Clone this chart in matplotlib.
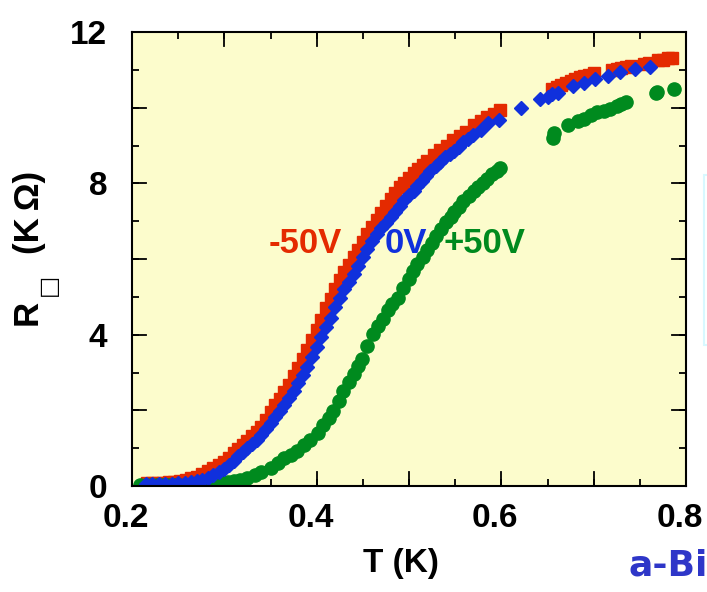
import matplotlib
matplotlib.use('Agg')
import matplotlib.pyplot as plt
from matplotlib.ticker import MultipleLocator, FixedLocator
from matplotlib.transforms import ScaledTranslation

plt.rcParams['font.family'] = ['Liberation Sans', 'DejaVu Sans']
plt.rcParams['font.weight'] = 'bold'
plt.rcParams['axes.labelweight'] = 'bold'

# -50V gate voltage (red squares)
t_m50 = [0.216, 0.222, 0.228, 0.234, 0.240, 0.246, 0.252, 0.258, 0.264, 0.270,
         0.276, 0.282, 0.288, 0.294, 0.300, 0.305, 0.310, 0.315, 0.320, 0.325,
         0.330, 0.335, 0.340, 0.345, 0.350, 0.355, 0.360, 0.365, 0.370, 0.375,
         0.380, 0.385, 0.390, 0.395, 0.400, 0.405, 0.410, 0.415, 0.420, 0.425,
         0.430, 0.435, 0.440, 0.445, 0.450, 0.455, 0.460, 0.465, 0.470, 0.475,
         0.480, 0.485, 0.490, 0.495, 0.500, 0.505, 0.510, 0.515, 0.520, 0.527,
         0.534, 0.541, 0.548, 0.555, 0.562, 0.570, 0.578, 0.585, 0.592, 0.599,
         0.655, 0.660, 0.665, 0.670, 0.675, 0.680, 0.685, 0.690, 0.695, 0.700,
         0.720, 0.725, 0.730, 0.735, 0.740, 0.755, 0.760, 0.770, 0.775, 0.780, 0.785]
r_m50 = [0.08, 0.08, 0.08, 0.09, 0.10, 0.10, 0.12, 0.15, 0.20, 0.25,
         0.32, 0.40, 0.48, 0.56, 0.64, 0.74, 0.86, 0.98, 1.08, 1.19,
         1.32, 1.44, 1.57, 1.75, 1.95, 2.13, 2.30, 2.48, 2.68, 2.90,
         3.13, 3.37, 3.60, 3.85, 4.12, 4.40, 4.70, 4.95, 5.20, 5.45,
         5.65, 5.85, 6.04, 6.25, 6.45, 6.65, 6.85, 7.04, 7.22, 7.40,
         7.58, 7.75, 7.90, 8.02, 8.14, 8.26, 8.37, 8.48, 8.60, 8.74,
         8.87, 9.00, 9.14, 9.25, 9.36, 9.55, 9.66, 9.75, 9.83, 9.93,
         10.50, 10.55, 10.60, 10.65, 10.70, 10.75, 10.80, 10.83, 10.87, 10.92,
         11.00, 11.03, 11.05, 11.07, 11.10, 11.15, 11.18, 11.25, 11.27, 11.30, 11.32]

# 0V (blue diamonds)
t_0 = [0.215, 0.222, 0.229, 0.236, 0.243, 0.250, 0.257, 0.264, 0.270, 0.276,
       0.282, 0.288, 0.294, 0.300, 0.305, 0.310, 0.315, 0.320, 0.325, 0.330,
       0.335, 0.340, 0.345, 0.350, 0.355, 0.360, 0.365, 0.370, 0.375, 0.380,
       0.385, 0.390, 0.395, 0.400, 0.405, 0.410, 0.415, 0.420, 0.425, 0.430,
       0.435, 0.440, 0.445, 0.450, 0.455, 0.460, 0.465, 0.470, 0.475, 0.480,
       0.485, 0.490, 0.495, 0.500, 0.505, 0.509, 0.514, 0.518, 0.523, 0.529,
       0.534, 0.539, 0.544, 0.549, 0.554, 0.559, 0.564, 0.569, 0.578, 0.586,
       0.597, 0.621, 0.642, 0.650, 0.655, 0.661, 0.678, 0.690, 0.701, 0.716,
       0.729, 0.745, 0.761]
r_0 = [0.05, 0.05, 0.05, 0.05, 0.06, 0.07, 0.08, 0.10, 0.13, 0.17,
       0.22, 0.28, 0.36, 0.45, 0.55, 0.66, 0.78, 0.90, 1.00, 1.10,
       1.22, 1.34, 1.50, 1.66, 1.82, 1.97, 2.14, 2.32, 2.52, 2.72,
       2.93, 3.15, 3.42, 3.68, 3.94, 4.20, 4.45, 4.72, 4.98, 5.20,
       5.40, 5.60, 5.82, 6.04, 6.27, 6.48, 6.66, 6.82, 6.96, 7.10,
       7.25, 7.40, 7.55, 7.68, 7.80, 7.92, 8.06, 8.20, 8.33, 8.45,
       8.57, 8.69, 8.77, 8.85, 8.97, 9.09, 9.18, 9.27, 9.42, 9.59,
       9.67, 9.99, 10.22, 10.28, 10.35, 10.40, 10.57, 10.65, 10.75, 10.83,
       10.94, 11.02, 11.07]

# +50V (green circles)
t_p50 = [0.209, 0.215, 0.221, 0.227, 0.233, 0.239, 0.245, 0.251, 0.257, 0.263,
         0.269, 0.275, 0.286, 0.292, 0.298, 0.304, 0.310, 0.317, 0.325, 0.333,
         0.340, 0.350, 0.358, 0.365, 0.372, 0.379, 0.386, 0.393, 0.401, 0.407,
         0.413, 0.418, 0.424, 0.429, 0.435, 0.440, 0.445, 0.449, 0.455, 0.461,
         0.466, 0.472, 0.477, 0.482, 0.488, 0.494, 0.500, 0.504, 0.509, 0.515,
         0.520, 0.525, 0.529, 0.535, 0.540, 0.545, 0.549, 0.554, 0.559, 0.565,
         0.570, 0.575, 0.580, 0.585, 0.590, 0.595, 0.599, 0.656, 0.657, 0.672,
         0.683, 0.689, 0.697, 0.704, 0.711, 0.718, 0.725, 0.730, 0.735, 0.767,
         0.769, 0.787]
r_p50 = [0.02, 0.02, 0.02, 0.02, 0.02, 0.02, 0.02, 0.02, 0.02, 0.03,
         0.03, 0.03, 0.04, 0.05, 0.07, 0.10, 0.13, 0.15, 0.22, 0.30,
         0.36, 0.48, 0.60, 0.73, 0.83, 0.93, 1.08, 1.22, 1.40, 1.60,
         1.80, 1.99, 2.25, 2.52, 2.75, 2.97, 3.18, 3.36, 3.70, 4.03,
         4.22, 4.42, 4.64, 4.82, 4.98, 5.24, 5.48, 5.68, 5.88, 6.05,
         6.23, 6.43, 6.62, 6.80, 6.97, 7.10, 7.23, 7.38, 7.52, 7.66,
         7.79, 7.90, 8.00, 8.12, 8.24, 8.32, 8.40, 9.20, 9.32, 9.54,
         9.64, 9.70, 9.80, 9.88, 9.92, 9.97, 10.05, 10.10, 10.15, 10.38,
         10.42, 10.49]

red = '#e42a00'
blue = '#1030dc'
green = '#008a1e'

fig = plt.figure(figsize=(7.07, 5.92), dpi=100)
ax = fig.add_axes([132 / 707, 1 - 486 / 592, 554 / 707, 454 / 592])
ax.set_facecolor('#fcfccc')

ax.plot(t_p50, r_p50, 'o', color=green, ms=9.5, mec=green)
ax.plot(t_0, r_0, 'D', color=blue, ms=7.5, mec=blue)
ax.plot(t_m50, r_m50, 's', color=red, ms=8.5, mec=red, zorder=1.9)

ax.set_xlim(0.2, 0.8)
ax.set_ylim(0, 12)
ax.xaxis.set_major_locator(FixedLocator([0.2, 0.4, 0.6, 0.8]))
ax.xaxis.set_minor_locator(MultipleLocator(0.05))
ax.yaxis.set_major_locator(FixedLocator([0, 4, 8, 12]))
ax.yaxis.set_minor_locator(MultipleLocator(1))
ax.tick_params(which='both', direction='in', top=True, right=True,
               width=1.3, labelsize=24)
ax.tick_params(which='minor', length=5)
ax.tick_params(which='major', length=5)
ax.tick_params(axis='y', pad=18)
ax.tick_params(axis='x', pad=12)
# x tick labels sit a few pixels left of their ticks in the original
for tick in ax.xaxis.get_major_ticks():
    tick.label1.set_transform(tick.label1.get_transform()
                              + ScaledTranslation(-0.06, 0, fig.dpi_scale_trans))
# longer ticks every 0.1 K and every 2 units
for t in [0.3, 0.4, 0.5, 0.6, 0.7]:
    ax.plot([t, t], [0, 0.38], color='black', lw=1.3, zorder=1)
    ax.plot([t, t], [12, 11.62], color='black', lw=1.3, zorder=1)
for r in [2, 4, 6, 8, 10]:
    ax.plot([0.2, 0.2155], [r, r], color='black', lw=1.3, zorder=1)
    ax.plot([0.8, 0.7845], [r, r], color='black', lw=1.3, zorder=1)
for s in ax.spines.values():
    s.set_linewidth(1.5)

ax.set_xlabel('T (K)', fontsize=24, fontweight='bold')
ax.xaxis.set_label_coords((401 - 132) / 554, (486 - 548) / 454)

# y label built from pieces: R, hollow square subscript, (K Ω)
fig.text(27 / 707, 1 - 312 / 592, 'R', fontsize=25, rotation=90,
         ha='center', va='center')
fig.text(48 / 707, 1 - 285 / 592, '\u25a1', fontsize=17, rotation=90,
         family='DejaVu Sans', ha='center', va='center')
fig.text(29 / 707, 1 - 212 / 592, '(K\u2009\u03a9)', fontsize=25, rotation=90,
         ha='center', va='center')

ax.text(0.388, 6.42, '-50V', color=red, fontsize=25, ha='center', va='center')
ax.text(0.497, 6.42, '0V', color=blue, fontsize=25, ha='center', va='center')
ax.text(0.582, 6.42, '+50V', color=green, fontsize=25, ha='center', va='center')

fig.text(629 / 707, 1 - 575 / 592, 'a-Bi', color='#2e36c8', fontsize=26,
         family='DejaVu Sans', weight='bold', ha='left', va='baseline')
fig.patches.append(plt.Rectangle((704 / 707, 1 - 345 / 592), 0.01, 170 / 592,
                                 transform=fig.transFigure, facecolor='white',
                                 edgecolor='#d8f8ff', lw=1.5))

fig.savefig('out.png', dpi=100)
